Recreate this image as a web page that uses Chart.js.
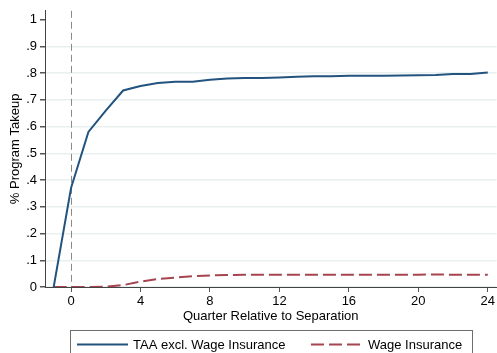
<!DOCTYPE html>
<html>
<head>
<meta charset="utf-8">
<script src="https://cdn.jsdelivr.net/npm/chart.js@4"></script>
<style>
  html, body { margin: 0; padding: 0; background: #fff; }
  #wrap { width: 497px; height: 353px; position: relative; }
</style>
</head>
<body>
<div id="wrap"><canvas id="c" width="497" height="353"></canvas></div>
<script>
// Quarters relative to separation
const quarters = [-1, 0, 1, 2, 3, 4, 5, 6, 7, 8, 9, 10, 11, 12, 13, 14, 15, 16, 17, 18, 19, 20, 21, 22, 23, 24];

// Share taking up TAA (excluding wage insurance)
const taaTakeup = [0, 0.37, 0.58, 0.66, 0.735, 0.752, 0.763, 0.768, 0.768, 0.775, 0.780, 0.782, 0.782, 0.784, 0.786, 0.788, 0.788, 0.790, 0.790, 0.790, 0.791, 0.792, 0.793, 0.797, 0.797, 0.802];

// Share taking up wage insurance
const wageTakeup = [0, 0, 0, 0.001, 0.007, 0.020, 0.030, 0.035, 0.040, 0.043, 0.045, 0.046, 0.046, 0.046, 0.046, 0.046, 0.046, 0.046, 0.046, 0.046, 0.046, 0.046, 0.047, 0.046, 0.046, 0.046];

const xTicks = [0, 4, 8, 12, 16, 20, 24];
const yTicks = [0, 0.1, 0.2, 0.3, 0.4, 0.5, 0.6, 0.7, 0.8, 0.9, 1];
const separationQuarter = 0;

const seriesNames = ['TAA excl. Wage Insurance', 'Wage Insurance'];
const xTitle = 'Quarter Relative to Separation';
const yTitle = '% Program Takeup';

const FONT = "'Liberation Sans', Arial, Helvetica, sans-serif";
const NAVY = '#23537f';
const MAROON = '#a6444f';

function fmtY(v) {
  if (v === 0) return '0';
  if (Math.abs(v - 1) < 1e-9) return '1';
  return v.toFixed(1).replace(/^0/, '');
}

// Vertical dashed reference line at the separation quarter
const refLine = {
  id: 'refLine',
  beforeDatasetsDraw(chart) {
    const { ctx, chartArea, scales } = chart;
    const x = Math.round(scales.x.getPixelForValue(separationQuarter)) + 0.5;
    ctx.save();
    ctx.strokeStyle = '#8a8a8a';
    ctx.lineWidth = 1;
    ctx.setLineDash([7, 4]);
    ctx.beginPath();
    ctx.moveTo(x, chartArea.top);
    ctx.lineTo(x, chartArea.bottom);
    ctx.stroke();
    ctx.restore();
  }
};

// Boxed legend below the axis title
const boxLegend = {
  id: 'boxLegend',
  afterDraw(chart) {
    const { ctx } = chart;
    ctx.save();
    ctx.strokeStyle = '#6e6e6e';
    ctx.lineWidth = 1;
    ctx.strokeRect(70.5, 330.5, 402, 40);
    const items = [
      { x0: 77, x1: 128, tx: 133 },
      { x0: 311, x1: 360, tx: 368 }
    ];
    const y = 344.5;
    chart.data.datasets.forEach((ds, i) => {
      const it = items[i];
      ctx.strokeStyle = ds.borderColor;
      ctx.lineWidth = ds.borderWidth;
      ctx.setLineDash(ds.borderDash || []);
      ctx.beginPath();
      ctx.moveTo(it.x0, y);
      ctx.lineTo(it.x1, y);
      ctx.stroke();
      ctx.setLineDash([]);
      ctx.fillStyle = '#000';
      ctx.font = '13px ' + FONT;
      ctx.textBaseline = 'middle';
      ctx.textAlign = 'left';
      ctx.fillText(ds.label, it.tx, y + 1);
    });
    ctx.restore();
  }
};

new Chart(document.getElementById('c'), {
  type: 'line',
  data: {
    datasets: [
      {
        label: seriesNames[0],
        data: quarters.map((q, i) => ({ x: q, y: taaTakeup[i] })),
        borderColor: NAVY,
        borderWidth: 2,
        pointRadius: 0,
        tension: 0,
        fill: false
      },
      {
        label: seriesNames[1],
        data: quarters.map((q, i) => ({ x: q, y: wageTakeup[i] })),
        borderColor: MAROON,
        borderWidth: 2,
        borderDash: [13, 5],
        pointRadius: 0,
        tension: 0,
        fill: false
      }
    ]
  },
  options: {
    responsive: false,
    animation: false,
    devicePixelRatio: 1,
    layout: { padding: { top: 7, right: 0, bottom: 0, left: 0 } },
    plugins: {
      legend: { display: false },
      tooltip: { enabled: false }
    },
    scales: {
      x: {
        type: 'linear',
        min: -1.5,
        max: 24.5,
        afterFit(scale) { scale.height = 66; },
        afterBuildTicks(scale) { scale.ticks = xTicks.map(v => ({ value: v })); },
        border: { display: true, color: '#444', width: 1 },
        grid: { drawOnChartArea: false, drawTicks: true, tickLength: 5, tickColor: '#555' },
        ticks: {
          color: '#000',
          font: { family: FONT, size: 13 },
          padding: 2,
          maxRotation: 0,
          callback: v => String(v)
        },
        title: {
          display: true,
          text: xTitle,
          color: '#000',
          font: { family: FONT, size: 13 },
          padding: { top: 0, bottom: 29 }
        }
      },
      y: {
        type: 'linear',
        min: 0,
        max: 1.033,
        afterFit(scale) { scale.width = 45; },
        afterBuildTicks(scale) { scale.ticks = yTicks.map(v => ({ value: v })); },
        border: { display: true, color: '#444', width: 1 },
        grid: {
          drawOnChartArea: true,
          drawTicks: true,
          tickLength: 5,
          tickColor: '#555',
          color: ctx => (ctx.tick && ctx.tick.value > 0.99) ? 'rgba(0,0,0,0)' : '#e8f0f0',
          lineWidth: 1.5
        },
        ticks: {
          color: '#000',
          font: { family: FONT, size: 13 },
          padding: 3,
          callback: v => fmtY(v)
        },
        title: {
          display: true,
          text: yTitle,
          color: '#000',
          font: { family: FONT, size: 13 },
          padding: { top: 8, bottom: 0 }
        }
      }
    }
  },
  plugins: [refLine, boxLegend]
});
</script>
</body>
</html>
